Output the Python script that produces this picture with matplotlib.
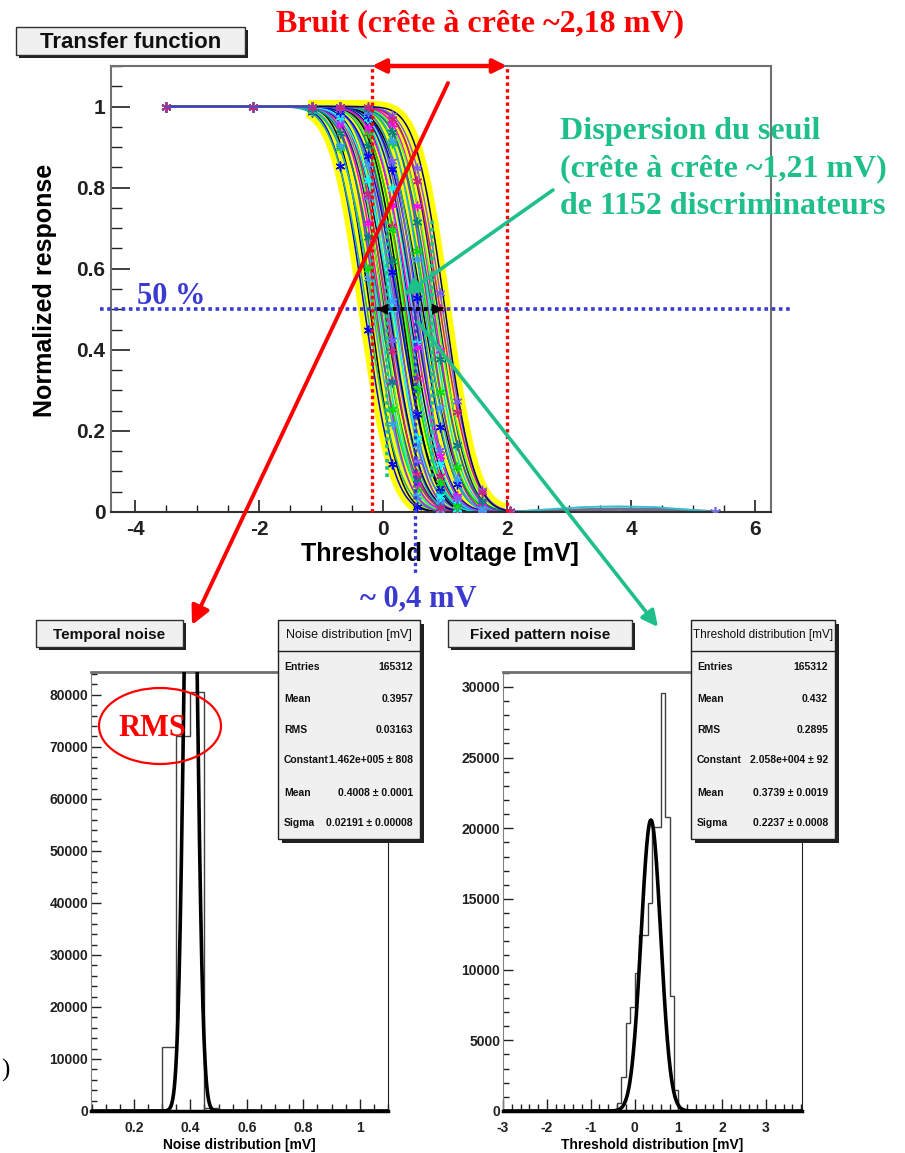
import math
import numpy as np
import matplotlib
matplotlib.use("Agg")
import matplotlib.pyplot as plt
from matplotlib.patches import Rectangle, Ellipse, FancyArrowPatch
from matplotlib.ticker import MultipleLocator, FuncFormatter

plt.rcParams['font.family'] = ['Liberation Sans', 'DejaVu Sans']

# ---------------- transfer function (S-curves of the discriminators) ----------------
thresholds_mv = [-0.30, -0.26, -0.21, -0.17, -0.14, -0.11, -0.08, -0.05, -0.03, 0.00,
                 0.02, 0.05, 0.07, 0.10, 0.12, 0.15, 0.17, 0.20, 0.22, 0.25,
                 0.27, 0.30, 0.32, 0.35, 0.37, 0.40, 0.42, 0.45, 0.47, 0.50,
                 0.52, 0.55, 0.58, 0.61, 0.64, 0.67, 0.70, 0.73, 0.76, 0.79,
                 0.82, 0.85, 0.88, 0.92, 0.96, 1.00]
noise_mv = [0.38, 0.42, 0.36, 0.41, 0.44, 0.37, 0.40, 0.43, 0.39, 0.35,
            0.41, 0.38, 0.42, 0.40, 0.37, 0.44, 0.39, 0.41, 0.36, 0.43,
            0.40, 0.38, 0.42, 0.39, 0.41, 0.37, 0.40, 0.43, 0.38, 0.41,
            0.39, 0.36, 0.42, 0.40, 0.44, 0.38, 0.41, 0.37, 0.40, 0.42,
            0.39, 0.43, 0.38, 0.41, 0.40, 0.37]
scan_mv = [-3.5, -2.1, -1.15, -0.7, -0.25, 0.15, 0.55, 0.92, 1.2, 1.6, 2.05]
tail_mv = [2.05, 2.6, 3.2, 3.8, 4.4, 5.0, 5.35]
tail_resp_cyan = [0.0, 0.006, 0.012, 0.014, 0.012, 0.005, 0.0]
tail_resp_grey = [0.0, 0.002, 0.005, 0.007, 0.006, 0.003, 0.0]
curve_colors = ['#0000ff', '#000000', '#00dd00', '#00e0f0', '#ff00ff', '#1c1c9c',
                '#7a5cff', '#20b0a0', '#3aa0ff', '#9a30c8', '#008080', '#40ff40',
                '#d02080', '#00007a', '#00ffff', '#6060e0']

# ---------------- temporal noise histogram ----------------
noise_edges = [0.30, 0.35, 0.40, 0.45, 0.50]
noise_counts = [12300, 72000, 80500, 500]
noise_fit = (1.462e5, 0.4008, 0.02191)
noise_stats = [("Entries", "165312"), ("Mean", "0.3957"), ("RMS", "0.03163"),
               ("Constant", "1.462e+005 \u00b1 808"), ("Mean", "0.4008 \u00b1 0.0001"),
               ("Sigma", "0.02191 \u00b1 0.00008")]

# ---------------- threshold (fixed pattern) histogram ----------------
thr_edges = [-0.4, -0.3, -0.2, -0.1, 0.0, 0.1, 0.2, 0.3, 0.4, 0.5, 0.6, 0.7, 0.8, 0.9, 1.0]
thr_counts = [560, 2400, 6200, 7350, 9750, 12450, 12450, 14700, 20100, 20100,
              29600, 20800, 8100, 1500]
thr_fit = (2.058e4, 0.3739, 0.2237)
thr_stats = [("Entries", "165312"), ("Mean", "0.432"), ("RMS", "0.2895"),
             ("Constant", "2.058e+004 \u00b1 92"), ("Mean", "0.3739 \u00b1 0.0019"),
             ("Sigma", "0.2237 \u00b1 0.0008")]

RED = '#ff0000'
TEAL = '#1fbf8c'
BLUE = '#3a3ad0'
SERIF = ['Liberation Serif', 'DejaVu Serif']

W, H = 905, 1153
fig = plt.figure(figsize=(W / 100, H / 100), dpi=100)


def px_box(x0, y0, x1, y1):
    return [x0 / W, 1 - y1 / H, (x1 - x0) / W, (y1 - y0) / H]


ax = fig.add_axes(px_box(111, 66, 771, 512))
ax_n = fig.add_axes(px_box(91, 672, 388, 1111))
ax_t = fig.add_axes(px_box(503, 672, 802, 1111))
ov = fig.add_axes([0, 0, 1, 1], zorder=10)
ov.set_xlim(0, W)
ov.set_ylim(H, 0)
ov.axis('off')
ov.patch.set_alpha(0)


def s_curve(x, thr, sig):
    x = np.atleast_1d(x)
    return np.array([0.5 * math.erfc((v - thr) / (math.sqrt(2) * sig)) for v in x])


def g_fmt(v, pos):
    return f"{v:g}"


# ---------------- top panel ----------------
xs_full = np.linspace(-3.5, 2.1, 500)
xs_band = np.linspace(-1.2, 1.95, 300)
for thr, sig in zip(thresholds_mv, noise_mv):
    ax.plot(xs_band, s_curve(xs_band, thr, sig), color='#ffff00', lw=9,
            solid_capstyle='butt', zorder=1)
order = list(range(0, len(thresholds_mv), 2)) + list(range(1, len(thresholds_mv), 2))
for k, i in enumerate(order):
    thr, sig = thresholds_mv[i], noise_mv[i]
    c = curve_colors[k % len(curve_colors)]
    ax.plot(xs_full, s_curve(xs_full, thr, sig), color=c, lw=1.1, zorder=2)
    if k % 2 == 0:
        sx = np.array(scan_mv)
        ax.plot(sx, s_curve(sx, thr, sig), ls='none', marker=(6, 2, 0), ms=7,
                mec=c, mew=1.0, zorder=3)
ax.plot(tail_mv, tail_resp_grey, color='#707090', lw=2.5, zorder=2)
ax.plot(tail_mv, tail_resp_cyan, color='#30c0d0', lw=1.3, zorder=2)
ax.plot([tail_mv[-1]], [tail_resp_grey[-1]], ls='none', marker=(6, 2, 0), ms=8,
        mec='#7070dd', mew=1.2, zorder=3)
ax.plot([-3.5, -1.15], [1.0, 1.0], color='#5050c8', lw=1.2, zorder=3)

ax.set_xlim(-4.39, 6.26)
ax.set_ylim(0, 1.1)
ax.xaxis.set_major_locator(MultipleLocator(2))
ax.xaxis.set_minor_locator(MultipleLocator(0.5))
ax.yaxis.set_major_locator(MultipleLocator(0.2))
ax.yaxis.set_minor_locator(MultipleLocator(0.05))
ax.xaxis.set_major_formatter(FuncFormatter(g_fmt))
ax.yaxis.set_major_formatter(FuncFormatter(g_fmt))
ax.tick_params(which='both', direction='in', top=False, right=False, colors='#202020')
ax.tick_params(axis='y', which='major', length=14, width=1.2, pad=4, labelsize=15)
ax.tick_params(axis='y', which='minor', length=8, width=1.0)
ax.tick_params(axis='x', which='major', length=9, width=1.2, pad=6, labelsize=15)
ax.tick_params(axis='x', which='minor', length=5, width=1.0)
for lab in ax.get_xticklabels() + ax.get_yticklabels():
    lab.set_fontweight('bold')
for side in ['left', 'top', 'right']:
    ax.spines[side].set_color('#707070')
    ax.spines[side].set_linewidth(1.5)
ax.spines['bottom'].set_color('#303030')
ax.spines['bottom'].set_linewidth(1.5)
ax.set_xlabel("Threshold voltage [mV]", fontsize=18, fontweight='bold', va='center')
ax.xaxis.set_label_coords(0.498, -0.094)
ax.set_ylabel("Normalized response", fontsize=18, fontweight='bold', va='center')
ax.yaxis.set_label_coords(-0.1, 0.498)

# annotations tied to the data scale
dots = (0, (1, 1))
for xv in (-0.18, 2.0):
    ax.plot([xv, xv], [0, 1.1], color=RED, lw=2.4, ls=dots, clip_on=False, zorder=6)
ax.annotate('', xy=(-0.18, 1.1), xytext=(2.0, 1.1),
            arrowprops=dict(arrowstyle='<|-|>', color=RED, lw=3.2, mutation_scale=20,
                            shrinkA=0, shrinkB=0), annotation_clip=False, zorder=7)
ax.plot([-4.56, 6.56], [0.5, 0.5], color=BLUE, lw=2.6, ls=dots, clip_on=False, zorder=6)
ax.plot([0.52, 0.52], [0.5, -0.15], color=BLUE, lw=2.4, ls=dots, clip_on=False, zorder=6)
for xv in (0.06, 0.79):
    ax.plot([xv, xv], [0.086, 0.72], color=TEAL, lw=2.6, ls=dots, clip_on=False, zorder=6)
ax.plot([-0.1, 0.97], [0.5, 0.5], color='black', lw=2.8, ls=dots, zorder=7)
for tip, tail in ((-0.1, 0.1), (0.97, 0.77)):
    ax.annotate('', xy=(tip, 0.5), xytext=(tail, 0.5),
                arrowprops=dict(arrowstyle='-|>', color='black', lw=0.5, mutation_scale=18,
                                shrinkA=0, shrinkB=0), zorder=8)

# ---------------- histogram panels ----------------
def hist_panel(a, edges, counts, fit, xlim, ylim, xmaj, xmin, ymaj, ymin, xlabel):
    a.stairs(counts, edges, color='#404040', lw=1.0, zorder=2)
    C, mu, sg = fit
    xf = np.linspace(xlim[0], xlim[1], 800)
    a.plot(xf, C * np.exp(-0.5 * ((xf - mu) / sg) ** 2), color='black', lw=2.6, zorder=3)
    a.set_xlim(*xlim)
    a.set_ylim(*ylim)
    a.xaxis.set_major_locator(MultipleLocator(xmaj))
    a.xaxis.set_minor_locator(MultipleLocator(xmin))
    a.yaxis.set_major_locator(MultipleLocator(ymaj))
    a.yaxis.set_minor_locator(MultipleLocator(ymin))
    a.xaxis.set_major_formatter(FuncFormatter(g_fmt))
    a.yaxis.set_major_formatter(FuncFormatter(g_fmt))
    a.tick_params(which='both', direction='in', top=False, right=False, colors='#202020')
    a.tick_params(axis='x', which='major', length=9, width=1.0, pad=7, labelsize=10)
    a.tick_params(axis='x', which='minor', length=5, width=1.0)
    a.tick_params(axis='y', which='major', length=7, width=1.0, pad=2, labelsize=10)
    a.tick_params(axis='y', which='minor', length=4, width=1.0)
    for lab in a.get_xticklabels() + a.get_yticklabels():
        lab.set_fontweight('bold')
    a.spines['left'].set_color('#808080')
    a.spines['top'].set_color('#707070')
    a.spines['top'].set_linewidth(2)
    a.spines['right'].set_color('#202020')
    a.spines['bottom'].set_color('black')
    a.spines['bottom'].set_linewidth(2.5)
    a.set_xlabel(xlabel, fontsize=10, fontweight='bold', va='center')
    a.xaxis.set_label_coords(0.5, -0.077)


hist_panel(ax_n, noise_edges, noise_counts, noise_fit, (0.048, 1.10), (0, 84400),
           0.2, 0.05, 10000, 2000, "Noise distribution [mV]")
hist_panel(ax_t, thr_edges, thr_counts, thr_fit, (-3.0, 3.82), (0, 31050),
           1, 0.2, 5000, 1000, "Threshold distribution [mV]")


# ---------------- boxes and free annotations ----------------
def title_box(x0, y0, x1, y1, text, size):
    ov.add_patch(Rectangle((x0 + 3, y0 + 3), x1 - x0, y1 - y0, fc='#202020', ec='none'))
    ov.add_patch(Rectangle((x0, y0), x1 - x0, y1 - y0, fc='#f0f0f0', ec='#303030', lw=1))
    ov.text((x0 + x1) / 2, (y0 + y1) / 2 + 1, text, ha='center', va='center',
            fontsize=size, fontweight='bold', color='#101010')


def stats_box(x0, y0, x1, y1, header, rows, hsize):
    ov.add_patch(Rectangle((x0 + 4, y0 + 4), x1 - x0, y1 - y0, fc='#202020', ec='none'))
    ov.add_patch(Rectangle((x0, y0), x1 - x0, y1 - y0, fc='#f0f0f0', ec='#202020', lw=1))
    ov.plot([x0, x1], [y0 + 31, y0 + 31], color='#202020', lw=1)
    ov.text((x0 + x1) / 2, y0 + 15, header, ha='center', va='center',
            fontsize=hsize, color='#101010')
    for (lab, val), dy in zip(rows, (47, 79, 110, 140, 173, 203)):
        ov.text(x0 + 6, y0 + dy, lab, ha='left', va='center', fontsize=7.5,
                fontweight='bold', color='#101010')
        ov.text(x1 - 7, y0 + dy, val, ha='right', va='center', fontsize=7.5,
                fontweight='bold', color='#101010')


title_box(16, 27, 245, 55, "Transfer function", 16)
title_box(36, 620, 183, 647, "Temporal noise", 11)
title_box(448, 620, 632, 647, "Fixed pattern noise", 11)
stats_box(278, 620, 420, 839, "Noise distribution [mV]", noise_stats, 9)
stats_box(691, 620, 835, 839, "Threshold distribution [mV]", thr_stats, 8.5)

ov.text(480, 24, "Bruit (cr\u00eate \u00e0 cr\u00eate ~2,18 mV)", ha='center', va='center',
        fontsize=23, fontweight='bold', color=RED, family=SERIF)
for txt, yy in (("Dispersion du seuil", 131),
                ("(cr\u00eate \u00e0 cr\u00eate ~1,21 mV)", 169),
                ("de 1152 discriminateurs", 207)):
    ov.text(560, yy, txt, ha='left', va='center', fontsize=23, fontweight='bold',
            color=TEAL, family=SERIF)
ov.text(171, 297, "50 %", ha='center', va='center', fontsize=22, fontweight='bold',
        color=BLUE, family=SERIF)
ov.text(418, 599, "~ 0,4 mV", ha='center', va='center', fontsize=22, fontweight='bold',
        color=BLUE, family=SERIF)
ov.text(152, 729, "RMS", ha='center', va='center', fontsize=22, fontweight='bold',
        color=RED, family=SERIF)
ov.add_patch(Ellipse((160, 726), 122, 76, fill=False, ec=RED, lw=1.6))
ov.text(1, 1070, ")", ha='left', va='center', fontsize=18, color='black', family=SERIF)

ov.add_patch(FancyArrowPatch((448, 83), (192, 625), arrowstyle='-|>', mutation_scale=28,
                             color=RED, lw=2.8, shrinkA=0, shrinkB=0))
ov.add_patch(FancyArrowPatch((553, 190), (404, 295), arrowstyle='-|>', mutation_scale=24,
                             color=TEAL, lw=2.6, shrinkA=0, shrinkB=0))
ov.add_patch(FancyArrowPatch((418, 322), (658, 627), arrowstyle='-|>', mutation_scale=24,
                             color=TEAL, lw=2.6, shrinkA=0, shrinkB=0))

fig.savefig("out.png", dpi=100)
